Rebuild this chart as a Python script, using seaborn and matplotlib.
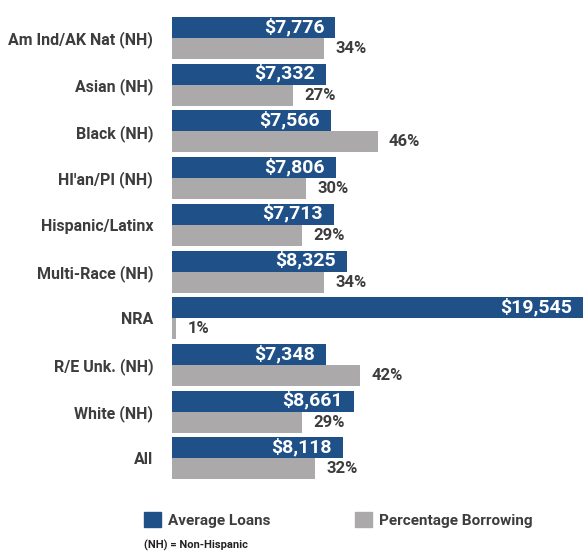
import pandas as pd
import numpy as np
import seaborn as sns
import matplotlib.pyplot as plt
from matplotlib.patches import Patch

# data
groups = ['Am Ind/AK Nat (NH)', 'Asian (NH)', 'Black (NH)', "HI'an/PI (NH)",
          'Hispanic/Latinx', 'Multi-Race (NH)', 'NRA', 'R/E Unk. (NH)',
          'White (NH)', 'All']
avg_loans = [7776, 7332, 7566, 7806, 7713, 8325, 19545, 7348, 8661, 8118]
pct_borrowing = [34, 27, 46, 30, 29, 34, 1, 42, 29, 32]
series = ['Average Loans', 'Percentage Borrowing']

blue = '#1f5088'
gray = '#aba9a9'
txt = '#3d3d3d'

sns.set_style('white')
plt.rcParams['font.family'] = ['Roboto', 'DejaVu Sans']
plt.rcParams['font.weight'] = 'bold'

n = len(groups)
loans_df = pd.DataFrame({'group': groups * 2,
                         'series': [series[0]] * n + [series[1]] * n,
                         'value': avg_loans + [0] * n})
pct_df = pd.DataFrame({'group': groups * 2,
                       'series': [series[0]] * n + [series[1]] * n,
                       'value': [0] * n + pct_borrowing})

fig = plt.figure(figsize=(5.85, 5.54), dpi=100)
ax = fig.add_axes([0.294, 0.1305, 0.704, 0.843])
ax2 = ax.twiny()

sns.barplot(data=loans_df, y='group', x='value', hue='series', hue_order=series,
            palette=[blue, gray], orient='h', width=0.9, errorbar=None,
            saturation=1, legend=False, ax=ax, linewidth=0)
sns.barplot(data=pct_df, y='group', x='value', hue='series', hue_order=series,
            palette=[blue, gray], orient='h', width=0.9, errorbar=None,
            saturation=1, legend=False, ax=ax2, linewidth=0)

ax.set_xlim(0, 19600)
ax2.set_xlim(0, 92)
ax.set_ylim(n - 0.5, -0.5)

for a in (ax, ax2):
    sns.despine(ax=a, left=True, bottom=True, top=True, right=True)
    a.set_xlabel('')
    a.set_ylabel('')
    a.set_xticks([])
    a.tick_params(length=0)

ax.set_yticks(range(n))
ax.set_yticklabels(groups, fontsize=11.5, color=txt, fontweight='bold')
ax.tick_params(axis='y', pad=13.5)

# value labels
for i, v in enumerate(avg_loans):
    ax.annotate(f'${v:,}', xy=(v, i - 0.225), xytext=(-8, 0.5),
                textcoords='offset points', ha='right', va='center',
                color='white', fontsize=14, fontweight='bold')
for i, v in enumerate(pct_borrowing):
    ax2.annotate(f'{v}%', xy=(v, i + 0.225), xytext=(8, 0),
                 textcoords='offset points', ha='left', va='center',
                 color=txt, fontsize=12, fontweight='bold')

handles = [Patch(color=blue), Patch(color=gray)]
fig.legend(handles, series, loc='center left',
           bbox_to_anchor=(144 / 585, 1 - 520 / 554), ncol=2, frameon=False,
           borderaxespad=0, borderpad=0, handlelength=1.1, handleheight=1.1,
           handletextpad=0.5, columnspacing=5.5,
           prop={'size': 11, 'weight': 'bold'}, labelcolor=txt)
fig.text(144 / 585, 1 - 545 / 554, '(NH) = Non-Hispanic', fontsize=8,
         color='#222222', fontweight='bold', va='center')

fig.savefig('out.png', dpi=100)
